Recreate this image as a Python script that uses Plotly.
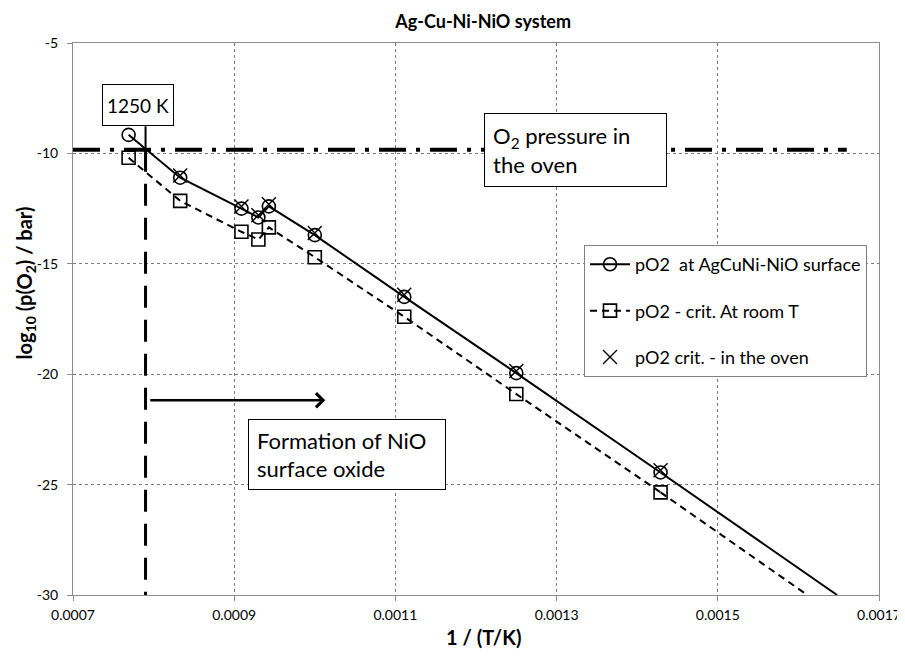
import plotly.graph_objects as go

# ---------------- data ----------------
inv_T = [0.000769, 0.000833, 0.000909, 0.000930, 0.000943, 0.001000, 0.001111, 0.001250, 0.001429]
log_pO2_surface = [-9.16, -11.1, -12.5, -12.9, -12.4, -13.7, -16.5, -19.95, -24.45]
log_pO2_crit_room = [-10.2, -12.15, -13.55, -13.9, -13.35, -14.7, -17.4, -20.9, -25.35]
inv_T_oven = [0.000833, 0.000909, 0.000930, 0.000943, 0.001000, 0.001111, 0.001250, 0.001429]
log_pO2_crit_oven = [-11.0, -12.4, -12.8, -12.3, -13.6, -16.4, -19.85, -24.35]

# continuation of the two lines down to the bottom of the axis
surface_ext_x = [0.001429, 0.001648]
surface_ext_y = [-24.45, -30.0]
room_ext_x = [0.001429, 0.001611]
room_ext_y = [-25.35, -30.0]

oven_log_pO2 = -9.83          # O2 pressure in the oven
oven_line_x = [0.0007, 0.00166]
cross_inv_T = 0.00079         # 1250 K crossing
arrow_y = -21.18
arrow_x = [0.000794, 0.001013]

x_ticks = [0.0007, 0.0009, 0.0011, 0.0013, 0.0015, 0.0017]
x_ticktext = ["0.0007", "0.0009", "0.0011", "0.0013", "0.0015", "0.0017"]
y_ticks = [-30, -25, -20, -15, -10, -5]
y_ticktext = ["-30", "-25", "-20", "-15", "-10", "-5"]

FONT = "Lato, 'Open Sans', sans-serif"

fig = go.Figure()

fig.add_trace(go.Scatter(
    x=inv_T, y=log_pO2_surface, mode="lines+markers",
    name="pO2  at AgCuNi-NiO surface", legendgroup="a",
    line=dict(color="black", width=2),
    marker=dict(symbol="circle-open", size=13, color="black", line=dict(width=1.6, color="black")),
))
fig.add_trace(go.Scatter(
    x=surface_ext_x, y=surface_ext_y, mode="lines", showlegend=False,
    line=dict(color="black", width=2),
))
fig.add_trace(go.Scatter(
    x=inv_T, y=log_pO2_crit_room, mode="lines+markers",
    name="pO2 - crit. At room T", legendgroup="b",
    line=dict(color="black", width=2, dash="7px,5px"),
    marker=dict(symbol="square-open", size=13, color="black", line=dict(width=1.6, color="black")),
))
fig.add_trace(go.Scatter(
    x=room_ext_x, y=room_ext_y, mode="lines", showlegend=False,
    line=dict(color="black", width=2, dash="7px,5px"),
))
fig.add_trace(go.Scatter(
    x=inv_T_oven, y=log_pO2_crit_oven, mode="markers",
    name="pO2 crit. - in the oven", legendgroup="c",
    marker=dict(symbol="x-thin-open", size=14, color="black", line=dict(width=1.4, color="black")),
))

# O2 pressure in the oven (dash-dot)
fig.add_shape(type="line", xref="x", yref="y",
              x0=oven_line_x[0], x1=oven_line_x[1], y0=oven_log_pO2, y1=oven_log_pO2,
              line=dict(color="black", width=4, dash="27px,10px,4px,10px"))
# vertical dashed line at crossing
fig.add_shape(type="line", xref="x", yref="y",
              x0=cross_inv_T, x1=cross_inv_T, y0=oven_log_pO2, y1=-30,
              line=dict(color="black", width=3, dash="22px,12px"))
# pointer from the 1250 K box
fig.add_shape(type="line", xref="x", yref="y",
              x0=cross_inv_T, x1=cross_inv_T, y0=-8.77, y1=oven_log_pO2,
              line=dict(color="black", width=2))

# arrow
fig.add_annotation(x=arrow_x[1], y=arrow_y, ax=arrow_x[0], ay=arrow_y,
                   xref="x", yref="y", axref="x", ayref="y", text="",
                   showarrow=True, arrowhead=4, arrowsize=1.1, arrowwidth=2.5,
                   arrowcolor="black")

# text boxes
fig.add_annotation(x=0.0007357, y=-6.84, xref="x", yref="y", xanchor="left", yanchor="top",
                   text="1250 K", showarrow=False, font=dict(family=FONT, size=19, color="black"),
                   bgcolor="white", bordercolor="black", borderwidth=1, borderpad=3,
                   width=64, height=34)
fig.add_annotation(x=0.0012105, y=-8.19, xref="x", yref="y", xanchor="left", yanchor="top",
                   text="O<sub>2</sub> pressure in<br>the oven", showarrow=False, align="left",
                   font=dict(family=FONT, size=22, color="black"),
                   bgcolor="white", bordercolor="black", borderwidth=1, borderpad=8,
                   width=165, height=56)
fig.add_annotation(x=0.000917, y=-22.03, xref="x", yref="y", xanchor="left", yanchor="top",
                   text="Formation of NiO<br>surface oxide", showarrow=False, align="left",
                   font=dict(family=FONT, size=22, color="black"),
                   bgcolor="white", bordercolor="black", borderwidth=1, borderpad=8,
                   width=180, height=53)

# axis titles
fig.add_annotation(x=-0.0592, y=0.565, xref="paper", yref="paper", textangle=-90,
                   xanchor="center", yanchor="middle",
                   text="<b>log<sub>10</sub> (p(O<sub>2</sub>) / bar)</b>", showarrow=False,
                   font=dict(family=FONT, size=20, color="black"))
fig.add_annotation(x=0.509, y=-0.076, xref="paper", yref="paper",
                   xanchor="center", yanchor="middle",
                   text="<b>1 / (T/K)</b>", showarrow=False,
                   font=dict(family=FONT, size=20, color="black"))

axis_common = dict(
    showgrid=True, gridcolor="#7a7a7a", gridwidth=1, griddash="3px,3px",
    showline=True, linecolor="#8c8c8c", linewidth=1, mirror=True,
    ticks="outside", ticklen=5, tickcolor="#8c8c8c", zeroline=False,
    tickfont=dict(family=FONT, size=14, color="black"),
)
fig.update_xaxes(range=[0.0007, 0.0017], tickvals=x_ticks, ticktext=x_ticktext,
                 ticklabelstandoff=2, ticklabeloverflow="allow", **axis_common)
fig.update_yaxes(range=[-30, -5], tickvals=y_ticks, ticktext=y_ticktext,
                 ticklabelstandoff=6, **axis_common)

# page body has an 8px default margin: margins compensate so the plot area
# lands at the reference's pixel position
fig.update_layout(
    width=905, height=662,
    margin=dict(l=65, r=29, t=35, b=75),
    paper_bgcolor="white", plot_bgcolor="white",
    title=dict(text="<b>Ag-Cu-Ni-NiO system</b>", x=0.525, xanchor="center", y=0.98, yanchor="middle",
               font=dict(family=FONT, size=18, color="black")),
    showlegend=True,
    legend=dict(x=0.634, y=0.634, xanchor="left", yanchor="top",
                bgcolor="white", bordercolor="#808080", borderwidth=1,
                font=dict(family=FONT, size=18, color="black"),
                traceorder="grouped", tracegroupgap=20, itemwidth=40),
    font=dict(family=FONT),
)

fig.write_html("out.html")
